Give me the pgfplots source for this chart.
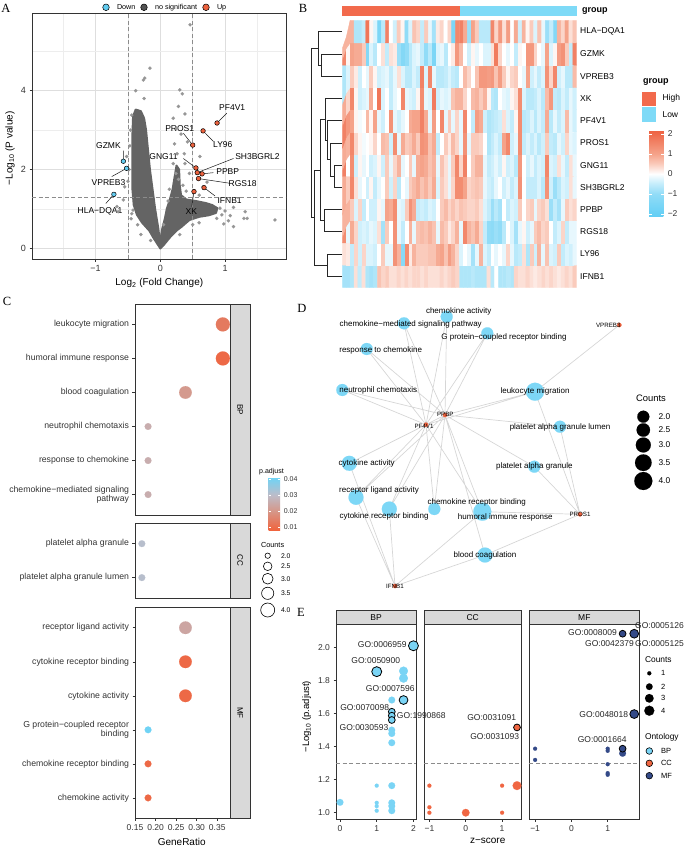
\documentclass[border=0pt]{standalone}
\usepackage{fontspec}
\setmainfont{Liberation Sans}
\newfontfamily\serif{Liberation Serif}
\usepackage{pgfplots}
\pgfplotsset{compat=1.18}
\usetikzlibrary{calc}

\newcommand{\fsz}[1]{\fontsize{#1}{#1}\selectfont}

\definecolor{upc}{RGB}{236,98,62}
\definecolor{downc}{RGB}{98,204,240}
\definecolor{nsc}{RGB}{100,100,100}
\definecolor{ptc}{RGB}{150,150,150}
\definecolor{highc}{RGB}{242,106,76}
\definecolor{lowc}{RGB}{126,218,247}
\definecolor{nodec}{RGB}{125,215,246}
\definecolor{edgec}{RGB}{214,214,214}
\definecolor{stripc}{RGB}{217,217,217}
\definecolor{framec}{RGB}{51,51,51}
\definecolor{bpc}{RGB}{122,212,245}
\definecolor{ccc}{RGB}{240,102,66}
\definecolor{mfc}{RGB}{52,74,136}

\pgfplotsset{
  colormap={heat}{rgb255(0)=(96,206,245) rgb255(114)=(145,220,247) rgb255(164)=(195,236,251)
     rgb255(214)=(255,255,255) rgb255(264)=(250,203,188) rgb255(314)=(245,163,138) rgb255(430)=(238,98,66)},
  colormap={padj}{rgb255(0)=(240,100,62) rgb255(117)=(214,150,136) rgb255(217)=(190,188,200) rgb255(330)=(110,212,246)},
  /pgf/number format/assume math mode=true,
  base/.style={scale only axis, anchor=south west,
    axis line style={framec, line width=0.6pt},
    tick style={framec, line width=0.5pt},
    major tick length=2.5pt, tick align=outside, tick pos=left,
    ticklabel style={text=black!80}},
  bub/.style={scatter, only marks, mark=*,
    scatter/use mapped color={#1},
    visualization depends on={\thisrow{r}\as\rr},
    scatter/@pre marker code/.append style={/tikz/mark size=\rr}},
  cax/.style={base, width=95pt, xmin=0.15, xmax=0.381, clip=false,
    colormap name=padj, point meta min=0.0083, point meta max=0.0413,
    yticklabel style={font=\fontsize{8.7}{9.6}\selectfont, align=right},
    xtick={0.15,0.2,0.25,0.3,0.35}, xticklabels={0.15,0.20,0.25,0.30,0.35},
    scaled x ticks=false,
    xticklabel style={font=\fsz{8.5}}},
  eax/.style={base, height=195pt, ymin=0.96, ymax=2.142, clip=false,
    ticklabel style={font=\fsz{8.5}}},
  page/.style={scale only axis, anchor=south west, at={(0pt,-848pt)}, width=685pt, height=848pt,
    xmin=0, xmax=685, ymin=-848, ymax=0, hide axis, clip=false},
}

\begin{document}
\begin{tikzpicture}
\path[use as bounding box] (0pt,0pt) rectangle (685pt,-848pt);

% ================= A : volcano
\begin{axis}[base, at={(32pt,-259pt)}, width=254pt, height=246pt,
  xmin=-1.98, xmax=1.94, ymin=-0.27, ymax=5.97,
  axis line style={framec, line width=0.9pt},
  xtick={-1,0,1}, xticklabels={−1,0,1},
  ytick={0,2,4}, yticklabels={0,2,4},
  minor xtick={-1.5,-0.5,0.5,1.5}, minor ytick={1,3,5},
  minor tick length=0pt,
  grid=both,
  major grid style={draw=black!13, line width=0.7pt},
  minor grid style={draw=black!7, line width=0.5pt},
  ticklabel style={font=\fsz{9}}]
\addplot[fill=nsc, draw=nsc, line width=2pt, line join=round] coordinates {
 (0,0) (-0.1,0.25) (-0.17,0.45) (-0.28,0.65) (-0.36,0.85) (-0.41,1.1) (-0.43,1.5)
 (-0.43,2.2) (-0.43,2.9) (-0.42,3.35) (-0.38,3.52) (-0.3,3.48) (-0.25,3.3) (-0.22,3.0)
 (-0.19,2.5) (-0.16,2.0) (-0.12,1.5) (-0.08,1.0) (-0.03,0.5) (-0.01,0.2)} -- cycle;
\addplot[fill=nsc, draw=nsc, line width=2pt, line join=round] coordinates {
 (0,0) (0.01,0.3) (0.03,0.5) (0.07,0.75) (0.1,1.0) (0.15,1.25) (0.19,1.5) (0.22,1.8)
 (0.25,2.1) (0.29,2.0) (0.3,1.6) (0.32,1.35) (0.4,1.24) (0.55,1.2) (0.7,1.15) (0.8,1.1)
 (0.88,1.02) (0.86,0.9) (0.75,0.84) (0.6,0.8) (0.45,0.72) (0.33,0.55) (0.25,0.45)
 (0.15,0.28) (0.06,0.1)} -- cycle;
\addplot[only marks, mark=*, mark size=1.7, mark options={fill=ptc, draw=ptc, line width=0.1pt}] coordinates {
 (0.46,5.67) (-0.16,4.57) (-0.26,4.27) (-0.24,4.32) (-0.44,3.38) (-0.52,2.33) (-0.48,2.0)
 (-0.55,1.56) (-0.57,1.23) (-0.42,0.97) (-0.44,0.88) (-0.67,1.06) (-0.5,1.7) (-0.47,2.6)
 (-0.46,3.0) (0.30,4.02) (0.34,3.92) (0.28,3.6) (0.38,3.41) (0.2,3.3) (0.25,3.05)
 (0.32,2.9) (0.22,2.65) (0.37,2.4) (0.2,2.15) (0.38,2.15) (0.61,2.33) (0.66,1.56)
 (0.72,1.68) (0.42,2.7) (0.45,1.9) (0.35,1.6) (0.4,1.45) (1.31,0.93) (1.29,0.76)
 (1.13,0.55) (1.77,0.72) (1.13,1.04) (1.08,0.83) (1.0,0.95) (0.87,0.76) (0.95,0.85)
 (1.05,0.7) (0.92,1.02) (0.6,1.35) (0.5,0.6) (0.6,0.65) (0.3,0.35) (-0.35,0.6)
 (-0.45,0.75) (-0.3,0.35) (-0.15,0.2) (-0.38,4.0) (-0.25,3.8) (0.26,2.4) (0.24,1.9)
 (0.28,1.75) (0.05,0.6) (0.12,1.2) (0.14,1.5) (-0.65,0.93) (1.34,0.76) (0.98,0.62)};
\addplot[black!45, dash pattern=on 4pt off 2.5pt, line width=0.6pt] coordinates {(-0.5,-0.27) (-0.5,5.97)};
\addplot[black!45, dash pattern=on 4pt off 2.5pt, line width=0.6pt] coordinates {(0.5,-0.27) (0.5,5.97)};
\addplot[black!45, dash pattern=on 4pt off 2.5pt, line width=0.6pt] coordinates {(-1.98,1.3) (1.94,1.3)};
\addplot[black!90, line width=0.5pt, unbounded coords=jump] table[row sep=\\] {x y\\
 0.876 3.18\\ 1.026 3.43\\ nan nan\\ 0.66 2.98\\ 0.82 2.71\\ nan nan\\
 0.50 2.62\\ 0.356 2.92\\ nan nan\\ 0.55 2.04\\ 0.356 2.28\\ nan nan\\
 0.57 1.92\\ 1.13 2.28\\ nan nan\\ 0.645 1.89\\ 0.82 1.92\\ nan nan\\
 0.59 1.77\\ 1.077 1.65\\ nan nan\\ 0.675 1.54\\ 0.845 1.33\\ nan nan\\
 0.52 1.44\\ 0.485 1.06\\ nan nan\\ -0.57 2.21\\ -0.57 2.48\\ nan nan\\
 -0.52 2.03\\ -0.75 1.82\\ nan nan\\ -0.716 1.37\\ -0.84 1.14\\};
\addplot[only marks, mark=*, mark size=2.3, mark options={fill=downc, draw=black, line width=0.5pt}] coordinates {
 (-0.57,2.21) (-0.52,2.03) (-0.716,1.37)};
\addplot[only marks, mark=*, mark size=2.3, mark options={fill=upc, draw=black, line width=0.5pt}] coordinates {
 (0.876,3.18) (0.66,2.98) (0.50,2.62) (0.55,2.04) (0.57,1.92) (0.645,1.89) (0.59,1.77) (0.675,1.54) (0.52,1.44)};
\node[font=\fsz{8.5}] at (axis cs:1.11,3.57) {PF4V1};
\node[font=\fsz{8.5}] at (axis cs:0.965,2.64) {LY96};
\node[font=\fsz{8.5}] at (axis cs:0.30,3.05) {PROS1};
\node[font=\fsz{8.5}] at (axis cs:0.05,2.34) {GNG11};
\node[font=\fsz{8.5}] at (axis cs:1.5,2.32) {SH3BGRL2};
\node[font=\fsz{8.5}] at (axis cs:1.04,1.94) {PPBP};
\node[font=\fsz{8.5}] at (axis cs:1.27,1.65) {RGS18};
\node[font=\fsz{8.5}] at (axis cs:1.07,1.21) {IFNB1};
\node[font=\fsz{8.5}] at (axis cs:0.48,0.94) {XK};
\node[font=\fsz{8.5}] at (axis cs:-0.80,2.6) {GZMK};
\node[font=\fsz{8.5}] at (axis cs:-0.80,1.68) {VPREB3};
\node[font=\fsz{8.5}] at (axis cs:-0.93,0.94) {HLA−DQA1};
\end{axis}

% ================= B : heatmap
\begin{axis}[scale only axis, anchor=south west, at={(342.3pt,-287.3pt)},
  width=234.4pt, height=266.6pt,
  xmin=-0.5, xmax=59.5, ymin=-0.5, ymax=11.5, axis line style={draw=none},
  xtick=\empty, ytick={0,...,11},
  yticklabels={IFNB1,LY96,RGS18,PPBP,SH3BGRL2,GNG11,PROS1,PF4V1,XK,VPREB3,GZMK,HLA−DQA1},
  yticklabel pos=right, ytick pos=right, major tick length=0pt, ytick style={draw=none},
  yticklabel style={font=\fsz{8.5}, text=black},
  colormap name=heat, point meta min=-2.14, point meta max=2.16,
  colorbar,
  colorbar style={scale only axis, anchor=south west,
    at={($(parent axis.south west)+(298.4pt,70.6pt)$)},
    width=15pt, height=86pt, xtick=\empty,
    ytick={-2,-1,0,1,2}, yticklabels={−2,−1,0,1,2}, scaled y ticks=false,
    yticklabel pos=right, ytick pos=both, tick align=inside, major tick length=3pt,
    ytick style={draw=white, line width=0.8pt}, axis line style={draw=none},
    yticklabel style={font=\fsz{8.5}, text=black!80}}]
\addplot[matrix plot*, mesh/cols=60, mesh/rows=12, point meta=explicit]
 table[row sep=\\, x expr={mod(\coordindex,60)}, y expr={floor(\coordindex/60)}, meta=v] {v\\
-0.8\\-0.8\\-0.7\\0.3\\-0.5\\0.3\\-0.7\\-0.8\\-0.7\\0.6\\0.4\\0.5\\0.3\\0.3\\0.4\\0.3\\0.4\\0.3\\0.4\\0.4\\0.3\\0.4\\0.3\\0.3\\0.3\\0.4\\0.3\\0.4\\0.5\\0.4\\
-0.7\\-0.7\\-0.7\\-0.6\\-0.7\\-0.7\\-0.7\\0.3\\-0.6\\0\\-0.7\\-0.7\\-0.6\\-0.7\\0.4\\0.3\\0.3\\0.4\\0.3\\0.2\\0.3\\0.4\\0.3\\0.4\\0.3\\0.2\\0.3\\0.4\\0.3\\0.5\\
0.3\\0.2\\-0.5\\0.4\\-0.4\\0.4\\-0.3\\-0.3\\-0.4\\0\\0.5\\-0.2\\-0.2\\1.3\\0.8\\-1.2\\1.4\\0.2\\0.8\\0.5\\0.5\\0.5\\0.6\\0.6\\0.9\\1.0\\0.6\\1.1\\0.8\\0.4\\
-0.3\\0\\-0.2\\-0.8\\-0.2\\0.8\\-0.3\\-0.5\\0\\-0.2\\0\\-0.2\\0.4\\-0.2\\-0.6\\-0.5\\0.3\\-0.7\\0.5\\-0.4\\0.8\\-0.2\\0.6\\-0.3\\-0.4\\0.5\\-0.5\\-0.3\\-0.4\\-0.2\\
1.4\\-0.2\\0.9\\0.4\\-0.4\\-0.3\\-0.4\\-0.2\\-0.3\\0.3\\-0.8\\0.5\\0\\1.3\\-0.2\\-0.5\\0\\0.8\\-0.2\\0.6\\0.7\\0.6\\0.8\\0.6\\-0.2\\0.7\\0.5\\0.2\\0.4\\0.8\\
-0.2\\1.5\\0.8\\0.6\\0.9\\0.4\\-0.5\\-1.0\\-1.1\\-0.9\\-1.0\\-0.6\\0\\-0.3\\-0.8\\-0.2\\0.1\\-0.4\\-0.2\\0.5\\0.7\\0.4\\0.5\\0\\-0.5\\-0.3\\0.4\\-0.5\\-0.2\\-0.2\\
0.8\\0.8\\0.5\\-0.3\\0.4\\-0.5\\0\\-0.4\\-0.4\\0.1\\-0.2\\1.0\\0.9\\1.4\\-0.2\\-0.3\\0.5\\1.3\\0.9\\-0.5\\-0.4\\-0.5\\-0.3\\-0.4\\0\\0.5\\0.7\\0.4\\0.6\\0.4\\
0.6\\0.5\\0.4\\0.4\\0.5\\0.3\\-0.3\\-0.5\\-0.9\\-0.6\\-0.8\\0\\-0.5\\-0.3\\-0.4\\0.5\\0\\0.4\\0.5\\-0.2\\0.4\\0.5\\0.3\\-0.9\\-0.5\\-0.8\\-0.2\\0.5\\0.3\\0.4\\
0.9\\0.5\\1.5\\0.3\\-0.2\\0\\-0.4\\0.1\\-0.5\\-0.2\\0\\0.5\\-0.4\\0.4\\-0.6\\0\\-0.2\\0.5\\0.7\\0.9\\0.6\\0.8\\0.5\\0.9\\-0.3\\0.5\\0.3\\-0.2\\0.4\\1.4\\
1.4\\1.0\\0.4\\0.5\\0.6\\0.5\\-0.2\\-0.4\\-0.5\\-0.2\\0\\-0.4\\-0.2\\-0.5\\-0.3\\1.3\\0\\-0.5\\-0.5\\-0.5\\-0.3\\-0.6\\1.3\\-0.4\\-0.9\\-0.6\\-0.3\\-0.4\\0.3\\-0.2\\
1.6\\0\\1.4\\-0.4\\0.1\\-0.2\\0\\-0.4\\-0.3\\0.1\\-0.4\\0.5\\-0.2\\0.4\\0.8\\-0.2\\0\\0.5\\-0.2\\0.9\\1.0\\0.9\\0.6\\0.8\\-0.2\\0.6\\0.3\\-0.2\\0.5\\1.5\\
0.4\\1.6\\0\\0.5\\0.8\\0.8\\-0.2\\-0.5\\-0.4\\-0.2\\-0.4\\0.1\\-0.4\\-0.3\\-0.6\\1.2\\0\\-0.4\\-0.2\\-0.5\\-0.3\\-0.4\\1.5\\-0.3\\-0.4\\0.3\\-0.2\\-0.5\\0.3\\-0.2\\
0.9\\0.8\\1.5\\0.4\\0.1\\-0.1\\0\\0.1\\0.4\\0\\0.7\\0.6\\-0.4\\1.4\\-0.2\\0.9\\0.5\\0.6\\0.9\\0.5\\1.3\\1.2\\0.6\\0.9\\-0.5\\0\\0.5\\0.2\\0.7\\0.4\\
-0.2\\1.3\\-0.2\\0.5\\0.5\\0.4\\0\\-0.7\\-0.5\\-0.3\\-0.5\\1.0\\1.5\\-0.4\\-0.2\\1.4\\-0.5\\-0.3\\-0.5\\-0.3\\-0.6\\-0.4\\0.5\\-0.5\\-0.6\\-0.2\\-0.4\\0.4\\-0.2\\-0.3\\
1.6\\1.2\\1.0\\0.1\\-0.1\\0\\0.7\\0.1\\1.0\\-0.2\\-0.4\\0\\1.3\\-0.2\\-0.4\\-0.2\\0\\0.9\\1.0\\1.0\\1.6\\0.9\\-0.2\\1.1\\0\\1.5\\-0.2\\0.5\\-0.2\\0.4\\
-0.2\\1.5\\0\\-0.5\\1.1\\0.9\\-0.4\\-0.7\\-0.6\\-0.5\\-0.4\\0.3\\-0.3\\-0.5\\0.1\\1.4\\-0.6\\-0.5\\-0.3\\-0.6\\-0.3\\-0.5\\0.9\\-0.6\\-0.2\\-0.5\\-0.3\\0.7\\-0.2\\-0.4\\
0.9\\0.4\\1.5\\0.1\\-0.4\\-0.3\\-0.2\\0.9\\0\\1.8\\-0.3\\0\\-0.5\\-0.2\\0\\1.5\\-0.2\\-0.3\\-0.4\\0.1\\1.4\\-0.2\\-0.3\\1.7\\-0.4\\-0.2\\-0.3\\-0.2\\0.6\\0.8\\
0.8\\0.4\\0\\0.7\\0.8\\0.5\\0.8\\0.1\\-0.6\\-0.7\\0\\-0.2\\-0.3\\0.1\\0.3\\1.4\\-0.3\\-0.6\\-0.6\\-0.5\\-0.3\\-0.6\\0.7\\1.2\\-0.5\\-0.6\\-0.3\\-0.5\\-0.2\\-0.4\\
-0.7\\-0.3\\0.5\\0.2\\-0.4\\0\\-0.2\\0.5\\0.1\\-0.4\\-0.3\\-0.2\\-0.5\\-0.2\\0.3\\-0.3\\-0.6\\-0.6\\-0.3\\-0.5\\1.6\\-0.3\\1.5\\-0.2\\-0.6\\-0.6\\-0.5\\-0.3\\-0.5\\-0.6\\
0\\0.7\\0.4\\0\\0.6\\1.2\\1.2\\1.1\\1.2\\0.6\\1.1\\0.5\\0.1\\0.4\\0.5\\0\\-0.2\\1.0\\-0.4\\-0.2\\-0.5\\-0.3\\1.3\\0.4\\1.5\\-0.4\\-0.2\\-0.6\\-0.6\\0.7\\
1.5\\0.1\\1.0\\0.9\\0.9\\0.5\\-1.3\\-0.3\\-0.6\\0\\0.3\\-0.5\\0.3\\0.2\\-0.9\\-1.3\\-1.0\\-0.6\\-0.3\\-0.2\\-0.5\\-1.0\\-0.6\\-1.5\\-0.3\\-0.2\\-0.6\\0\\0.2\\1.2\\
0.7\\0\\-0.4\\0.1\\-0.2\\0\\-0.3\\-0.3\\0.3\\1.7\\0.4\\0\\-0.2\\0\\-0.5\\0.1\\0\\1.2\\1.2\\0.4\\0\\-0.2\\1.0\\-0.3\\0.1\\1.1\\1.3\\0.5\\-0.5\\1.6\\
0.8\\0.8\\0.8\\-0.7\\-0.7\\-0.5\\1.8\\0.1\\-0.3\\-1.5\\-0.6\\1.6\\0\\-0.4\\0.5\\0.1\\-1.0\\-0.3\\0.6\\0.4\\-0.5\\0.5\\-0.2\\-0.8\\0.2\\0.4\\0\\0.4\\-1.5\\1.5\\
1.6\\0.9\\-0.9\\1.0\\0.5\\-0.6\\-0.6\\-0.6\\1.5\\0.4\\1.2\\0.3\\1.1\\0\\0.9\\-0.4\\0.8\\0.1\\0.5\\-0.3\\0.6\\-0.2\\-0.9\\-0.5\\-1.3\\0.8\\0.4\\1.0\\0.3\\0.6\\
};
\end{axis}

% ================= C : dot plot facets
\begin{axis}[cax, at={(135pt,-515pt)}, height=211pt, ymin=0.4, ymax=6.6, xtick=\empty,
  ytick={1,...,6},
  yticklabels={{chemokine−mediated signaling\\pathway}, response to chemokine, neutrophil chemotaxis, blood coagulation, humoral immune response, leukocyte migration},
  colorbar,
  colorbar style={scale only axis, anchor=south west,
    at={($(parent axis.south west)+(125pt,-15pt)$)},
    width=11.7pt, height=52.7pt, xtick=\empty,
    ytick={0.01,0.02,0.03,0.04}, yticklabels={0.01,0.02,0.03,0.04}, scaled y ticks=false,
    yticklabel pos=right, ytick pos=both, tick align=inside, major tick length=2.3pt,
    ytick style={draw=white, line width=0.7pt}, axis line style={draw=none},
    yticklabel style={font=\fsz{7}, text=black!80}}]
\addplot[point meta=explicit, bub={draw=mapped color, fill=mapped color, line width=0.1pt}]
 table[row sep=\\, meta=p] {x y p r\\
 0.3636 6 0.0135 7.0\\ 0.3636 5 0.0095 7.0\\ 0.2727 4 0.0210 6.3\\
 0.1818 3 0.0260 3.4\\ 0.1818 2 0.0260 3.4\\ 0.1818 1 0.0260 3.4\\};
\end{axis}
\begin{axis}[cax, at={(135pt,-598pt)}, height=74.7pt, ymin=0.4, ymax=2.6, xtick=\empty,
  ytick={1,2}, yticklabels={platelet alpha granule lumen, platelet alpha granule}]
\addplot[point meta=explicit, bub={draw=mapped color, fill=mapped color, line width=0.1pt}]
 table[row sep=\\, meta=p] {x y p r\\ 0.1667 2 0.031 3.4\\ 0.1667 1 0.031 3.4\\};
\end{axis}
\begin{axis}[cax, at={(135pt,-818.3pt)}, height=211pt, ymin=0.4, ymax=6.6,
  ytick={1,...,6},
  yticklabels={chemokine activity, chemokine receptor binding, {G protein−coupled receptor\\binding}, cytokine activity, cytokine receptor binding, receptor ligand activity}]
\addplot[point meta=explicit, bub={draw=mapped color, fill=mapped color, line width=0.1pt}]
 table[row sep=\\, meta=p] {x y p r\\
 0.1818 1 0.0095 3.4\\ 0.1818 2 0.0095 3.4\\ 0.1818 3 0.041 3.4\\
 0.2727 4 0.0095 6.3\\ 0.2727 5 0.0095 6.3\\ 0.2727 6 0.024 6.3\\};
\end{axis}

% ================= E : z-score facets
\begin{axis}[eax, at={(336pt,-819.3pt)}, width=80pt, xmin=-0.11, xmax=2.07,
  xtick={0,1,2}, ytick={1,1.2,1.4,1.6,1.8,2}, yticklabels={1.0,1.2,1.4,1.6,1.8,2.0}]
\addplot[black!45, dash pattern=on 4pt off 2.5pt, line width=0.6pt] coordinates {(-0.11,1.3) (2.07,1.3)};
\addplot[bub={draw=bpc, fill=bpc, line width=0.1pt}] table[row sep=\\] {x y r\\
 1.73 1.859 4.4\\ 1.73 1.815 4.4\\ 1.41 1.683 3.4\\ 1.41 1.501 3.4\\ 1.41 1.48 3.4\\
 1.41 1.424 3.4\\ 1 1.164 2.0\\ 1.41 1.164 3.4\\ 0 1.063 3.4\\ 1 1.06 2.0\\ 1 1.04 2.0\\
 1 1.012 2.0\\ 1.41 1.06 3.4\\ 1.41 1.04 3.4\\ 1.41 1.012 3.4\\};
\addplot[bub={draw=black, fill=bpc, line width=0.8pt}] table[row sep=\\] {x y r\\
 2.0 2.012 5.0\\ 1 1.855 5.0\\ 1.73 1.683 4.4\\ 1.41 1.612 3.4\\ 1.41 1.588 3.4\\ 1.41 1.562 3.4\\};
\end{axis}
\begin{axis}[eax, at={(424.3pt,-819.3pt)}, width=96.7pt, xmin=-1.14, xmax=1.52,
  xtick={-1,0,1}, xticklabels={−1,0,1}, ytick=\empty]
\addplot[black!45, dash pattern=on 4pt off 2.5pt, line width=0.6pt] coordinates {(-1.14,1.3) (1.52,1.3)};
\addplot[bub={draw=ccc, fill=ccc, line width=0.1pt}] table[row sep=\\] {x y r\\
 -1 1.164 2.0\\ 1 1.164 2.0\\ 1.41 1.164 4.4\\ -1 1.033 2.0\\ -1 1.0 2.0\\ 0 1.0 3.8\\ 1 1.0 2.0\\};
\addplot[bub={draw=black, fill=ccc, line width=0.8pt}] table[row sep=\\] {x y r\\
 1.41 1.517 3.4\\};
\end{axis}
\begin{axis}[eax, at={(529.3pt,-819.3pt)}, width=110pt, xmin=-1.16, xmax=1.87,
  xtick={-1,0,1}, xticklabels={−1,0,1}, ytick=\empty]
\addplot[black!45, dash pattern=on 4pt off 2.5pt, line width=0.6pt] coordinates {(-1.16,1.3) (1.87,1.3)};
\addplot[bub={draw=mfc, fill=mfc, line width=0.1pt}] table[row sep=\\] {x y r\\
 1.41 1.36 3.4\\ -1 1.388 2.0\\ -1 1.32 2.0\\ 1 1.388 2.0\\ 1 1.375 2.0\\ 1 1.294 2.0\\
 1 1.24 2.0\\ 1 1.23 2.0\\};
\addplot[bub={draw=black, fill=mfc, line width=0.8pt}] table[row sep=\\] {x y r\\
 1.41 2.085 3.4\\ 1.73 2.085 4.4\\ 1.73 1.598 4.4\\ 1.41 1.388 3.4\\};
\end{axis}

% ================= overlay in page pixels (D network, dendrogram, legends, strips)
\begin{axis}[page]
% panel letters
\node[font=\serif\fsz{12.5}] at (axis cs:6,-8) {A};
\node[font=\serif\fsz{12.5}] at (axis cs:303,-8) {B};
\node[font=\serif\fsz{12.5}] at (axis cs:7,-301) {C};
\node[font=\serif\fsz{12.5}] at (axis cs:302,-308) {D};
\node[font=\serif\fsz{12.5}] at (axis cs:301,-612) {E};
% A legend
\addplot[bub={draw=black, fill=downc, line width=0.5pt}] table[row sep=\\] {x y r\\ 106 -7.3 3.3\\};
\addplot[bub={draw=black, fill=black!68, line width=0.5pt}] table[row sep=\\] {x y r\\ 144 -7.3 3.3\\};
\addplot[bub={draw=black, fill=upc, line width=0.5pt}] table[row sep=\\] {x y r\\ 206 -7.3 3.3\\};
\node[font=\fsz{7.2}, anchor=west] at (axis cs:113.5,-7.3) {Down};
\node[font=\fsz{7.2}, anchor=west] at (axis cs:151.5,-7.3) {no significant};
\node[font=\fsz{7.2}, anchor=west] at (axis cs:213.5,-7.3) {Up};
% A axis titles
\node[font=\fsz{10}] at (axis cs:159.3,-283.3) {Log\textsubscript{2} (Fold Change)};
\node[font=\fsz{10}, rotate=90] at (axis cs:10,-148.3) {−Log\textsubscript{10} (P value)};
% B group bar
\addplot[fill=highc, draw=none] coordinates {(342.3,-6) (460,-6) (460,-16.3) (342.3,-16.3)} -- cycle;
\addplot[fill=lowc, draw=none] coordinates {(460,-6) (576.7,-6) (576.7,-16.3) (460,-16.3)} -- cycle;
\node[font=\bfseries\fsz{9}, anchor=west] at (axis cs:578.5,-11.5) {group};
% B dendrogram
\addplot[black!85, line width=0.7pt, unbounded coords=jump] table[row sep=\\] {x y\\
 342 -54.0\\ 321.7 -54.0\\ 321.7 -76.2\\ 342 -76.2\\ nan nan\\
 342 -31.8\\ 318.3 -31.8\\ 318.3 -65.1\\ 321.7 -65.1\\ nan nan\\
 342 -165.1\\ 334.3 -165.1\\ 334.3 -187.3\\ 342 -187.3\\ nan nan\\
 342 -142.9\\ 330 -142.9\\ 330 -176.2\\ 334.3 -176.2\\ nan nan\\
 342 -120.7\\ 327.3 -120.7\\ 327.3 -159.6\\ 330 -159.6\\ nan nan\\
 342 -98.5\\ 325 -98.5\\ 325 -140.1\\ 327.3 -140.1\\ nan nan\\
 342 -209.6\\ 324 -209.6\\ 324 -231.8\\ 342 -231.8\\ nan nan\\
 325 -119.3\\ 320.7 -119.3\\ 320.7 -220.7\\ 324 -220.7\\ nan nan\\
 342 -254.0\\ 327.3 -254.0\\ 327.3 -276.2\\ 342 -276.2\\ nan nan\\
 320.7 -170\\ 314 -170\\ 314 -265.1\\ 327.3 -265.1\\ nan nan\\
 318.3 -48.5\\ 311.7 -48.5\\ 311.7 -217.6\\ 314 -217.6\\};
% B group legend
\node[font=\bfseries\fsz{9}, anchor=west] at (axis cs:639.5,-82.5) {group};
\addplot[fill=highc, draw=none] coordinates {(641.7,-91.7) (655.7,-91.7) (655.7,-105.7) (641.7,-105.7)} -- cycle;
\addplot[fill=lowc, draw=none] coordinates {(641.7,-107.3) (655.7,-107.3) (655.7,-121.7) (641.7,-121.7)} -- cycle;
\node[font=\fsz{8.5}, anchor=west] at (axis cs:659,-98.7) {High};
\node[font=\fsz{8.5}, anchor=west] at (axis cs:659,-114.5) {Low};
% C strips
\addplot[fill=stripc, draw=framec, line width=0.6pt] coordinates {(230,-304) (250.3,-304) (250.3,-515) (230,-515)} -- cycle;
\addplot[fill=stripc, draw=framec, line width=0.6pt] coordinates {(230,-523.3) (250.3,-523.3) (250.3,-598) (230,-598)} -- cycle;
\addplot[fill=stripc, draw=framec, line width=0.6pt] coordinates {(230,-607.3) (250.3,-607.3) (250.3,-818.3) (230,-818.3)} -- cycle;
\node[font=\fsz{8}, rotate=-90] at (axis cs:240.2,-409.5) {BP};
\node[font=\fsz{8}, rotate=-90] at (axis cs:240.2,-560.7) {CC};
\node[font=\fsz{8}, rotate=-90] at (axis cs:240.2,-712.8) {MF};
\node[font=\fsz{10}] at (axis cs:181.7,-842.3) {GeneRatio};
% C legends
\node[font=\fsz{7}, anchor=south west, inner sep=0pt] at (axis cs:259,-475.5) {p.adjust};
\node[font=\fsz{7.3}, anchor=west] at (axis cs:257.5,-545) {Counts};
\addplot[bub={draw=black, fill=white, line width=0.6pt}] table[row sep=\\] {x y r\\
 267.7 -555.7 2.7\\ 267.7 -566.3 4.3\\ 267.7 -578.7 5.4\\ 267.7 -593.3 6.1\\ 267.7 -610 7.0\\};
\node[font=\fsz{6.8}, anchor=west] at (axis cs:277.5,-555.7) {2.0};
\node[font=\fsz{6.8}, anchor=west] at (axis cs:277.5,-566.3) {2.5};
\node[font=\fsz{6.8}, anchor=west] at (axis cs:277.5,-578.7) {3.0};
\node[font=\fsz{6.8}, anchor=west] at (axis cs:277.5,-593.3) {3.5};
\node[font=\fsz{6.8}, anchor=west] at (axis cs:277.5,-610) {4.0};
% D network edges
\addplot[edgec, line width=0.7pt, unbounded coords=jump] table[row sep=\\] {x y\\
 445 -415\\ 446.7 -316.7\\ nan nan\\ 426 -424.7\\ 446.7 -316.7\\ nan nan\\
 445 -415\\ 404 -323.3\\ nan nan\\ 426 -424.7\\ 404 -323.3\\ nan nan\\
 445 -415\\ 487.3 -333.3\\ nan nan\\ 426 -424.7\\ 487.3 -333.3\\ nan nan\\
 445 -415\\ 366.7 -349\\ nan nan\\ 426 -424.7\\ 366.7 -349\\ nan nan\\
 445 -415\\ 342.3 -390\\ nan nan\\ 426 -424.7\\ 342.3 -390\\ nan nan\\
 445 -415\\ 535 -391.7\\ nan nan\\ 426 -424.7\\ 535 -391.7\\ nan nan\\
 619.3 -325\\ 535 -391.7\\ nan nan\\ 580 -514.3\\ 535 -391.7\\ nan nan\\
 445 -415\\ 560 -426.7\\ nan nan\\ 580 -514.3\\ 560 -426.7\\ nan nan\\
 445 -415\\ 349.3 -463.3\\ nan nan\\ 426 -424.7\\ 349.3 -463.3\\ nan nan\\ 395 -586\\ 349.3 -463.3\\ nan nan\\
 445 -415\\ 534.3 -466.7\\ nan nan\\ 580 -514.3\\ 534.3 -466.7\\ nan nan\\
 445 -415\\ 356 -497.3\\ nan nan\\ 426 -424.7\\ 356 -497.3\\ nan nan\\ 395 -586\\ 356 -497.3\\ nan nan\\
 445 -415\\ 389.3 -509\\ nan nan\\ 426 -424.7\\ 389.3 -509\\ nan nan\\ 395 -586\\ 389.3 -509\\ nan nan\\
 445 -415\\ 434.3 -509\\ nan nan\\ 426 -424.7\\ 434.3 -509\\ nan nan\\
 445 -415\\ 482.3 -511.7\\ nan nan\\ 426 -424.7\\ 482.3 -511.7\\ nan nan\\
 580 -514.3\\ 482.3 -511.7\\ nan nan\\ 395 -586\\ 482.3 -511.7\\ nan nan\\
 445 -415\\ 485 -555\\ nan nan\\ 580 -514.3\\ 485 -555\\ nan nan\\ 395 -586\\ 485 -555\\};
% D term nodes
\addplot[bub={draw=nodec, fill=nodec, line width=0.1pt}] table[row sep=\\] {x y r\\
 446.7 -316.7 6\\ 404 -323.3 6\\ 487.3 -333.3 6\\ 366.7 -349 6\\ 342.3 -390 6\\
 535 -391.7 9\\ 560 -426.7 6\\ 349.3 -463.3 7.5\\ 534.3 -466.7 6\\ 356 -497.3 7.5\\
 389.3 -509 7.5\\ 434.3 -509 6\\ 482.3 -511.7 9\\ 485 -555 7.5\\};
% D gene nodes
\addplot[bub={draw=upc, fill=upc, line width=0.1pt}] table[row sep=\\] {x y r\\
 445 -415 2.2\\ 426 -424.7 2.2\\ 619.3 -325 2.2\\ 580 -514.3 2.2\\ 395 -586 2.2\\};
% D legend
\node[font=\fsz{9.4}, anchor=west] at (axis cs:632.5,-398.3) {Counts};
\addplot[bub={draw=black, fill=black, line width=0.1pt}] table[row sep=\\] {x y r\\
 643.3 -416.7 6\\ 643.3 -430 6.7\\ 643.3 -445 7.5\\ 643.3 -462.7 8.3\\ 643.3 -481 9\\};
\node[font=\fsz{8.4}, anchor=west] at (axis cs:655,-416.7) {2.0};
\node[font=\fsz{8.4}, anchor=west] at (axis cs:655,-430) {2.5};
\node[font=\fsz{8.4}, anchor=west] at (axis cs:655,-445) {3.0};
\node[font=\fsz{8.4}, anchor=west] at (axis cs:655,-462.7) {3.5};
\node[font=\fsz{8.4}, anchor=west] at (axis cs:655,-481) {4.0};
% E strips
\addplot[fill=stripc, draw=framec, line width=0.6pt] coordinates {(336,-610) (416,-610) (416,-624.3) (336,-624.3)} -- cycle;
\addplot[fill=stripc, draw=framec, line width=0.6pt] coordinates {(424.3,-610) (521,-610) (521,-624.3) (424.3,-624.3)} -- cycle;
\addplot[fill=stripc, draw=framec, line width=0.6pt] coordinates {(529.3,-610) (639.3,-610) (639.3,-624.3) (529.3,-624.3)} -- cycle;
\node[font=\fsz{8.5}] at (axis cs:376,-617.2) {BP};
\node[font=\fsz{8.5}] at (axis cs:472.7,-617.2) {CC};
\node[font=\fsz{8.5}] at (axis cs:584.3,-617.2) {MF};
% E axis titles
\node[font=\fsz{10}] at (axis cs:487.7,-840.7) {z−score};
\node[font=\fsz{9.5}, rotate=90] at (axis cs:306.7,-716.7) {−Log\textsubscript{10} (p.adjust)};
% E legends
\node[font=\fsz{8.4}, anchor=west] at (axis cs:641.5,-659.3) {Counts};
\addplot[bub={draw=black, fill=black, line width=0.1pt}] table[row sep=\\] {x y r\\
 649.3 -673.3 2\\ 649.3 -686.7 3.3\\ 649.3 -698.3 4.3\\ 649.3 -710.7 5\\};
\node[font=\fsz{7.5}, anchor=west] at (axis cs:657.5,-673.3) {1};
\node[font=\fsz{7.5}, anchor=west] at (axis cs:657.5,-686.7) {2};
\node[font=\fsz{7.5}, anchor=west] at (axis cs:657.5,-698.3) {3};
\node[font=\fsz{7.5}, anchor=west] at (axis cs:657.5,-710.7) {4};
\node[font=\fsz{8.4}, anchor=west] at (axis cs:641.5,-737.3) {Ontology};
\addplot[bub={draw=black, fill=bpc, line width=0.6pt}] table[row sep=\\] {x y r\\ 649.3 -751 3.3\\};
\addplot[bub={draw=black, fill=ccc, line width=0.6pt}] table[row sep=\\] {x y r\\ 649.3 -763.3 3.3\\};
\addplot[bub={draw=black, fill=mfc, line width=0.6pt}] table[row sep=\\] {x y r\\ 649.3 -775.7 3.3\\};
\node[font=\fsz{7.5}, anchor=west] at (axis cs:657.5,-751) {BP};
\node[font=\fsz{7.5}, anchor=west] at (axis cs:657.5,-763.3) {CC};
\node[font=\fsz{7.5}, anchor=west] at (axis cs:657.5,-775.7) {MF};
\end{axis}

% ================= text laid over the network nodes and E points
\begin{axis}[page]
\node[font=\fsz{8}] at (axis cs:458.7,-311) {chemokine activity};
\node[font=\fsz{8}] at (axis cs:410.7,-324.3) {chemokine−mediated signaling pathway};
\node[font=\fsz{8}] at (axis cs:504,-337.7) {G protein−coupled receptor binding};
\node[font=\fsz{8}] at (axis cs:380.7,-350) {response to chemokine};
\node[font=\fsz{8}] at (axis cs:378.3,-390.7) {neutrophil chemotaxis};
\node[font=\fsz{8}] at (axis cs:535,-391) {leukocyte migration};
\node[font=\fsz{8}] at (axis cs:560,-427.7) {platelet alpha granule lumen};
\node[font=\fsz{8}] at (axis cs:366.7,-463.7) {cytokine activity};
\node[font=\fsz{8}] at (axis cs:534.3,-466.7) {platelet alpha granule};
\node[font=\fsz{8}] at (axis cs:379,-490.7) {receptor ligand activity};
\node[font=\fsz{8}] at (axis cs:384,-516.7) {cytokine receptor binding};
\node[font=\fsz{8}] at (axis cs:476.7,-502.7) {chemokine receptor binding};
\node[font=\fsz{8}] at (axis cs:505.3,-517) {humoral immune response};
\node[font=\fsz{8}] at (axis cs:485,-555.7) {blood coagulation};
\node[font=\fsz{6.2}] at (axis cs:445.3,-414) {PPBP};
\node[font=\fsz{6.2}] at (axis cs:424,-426.7) {PF4V1};
\node[font=\fsz{6.2}] at (axis cs:608.3,-325) {VPREB3};
\node[font=\fsz{6.2}] at (axis cs:580,-514.3) {PROS1};
\node[font=\fsz{6.2}] at (axis cs:395,-586) {IFNB1};
% E point labels
\node[font=\fsz{8.5}, text=black!85] at (axis cs:382.3,-645) {GO:0006959};
\node[font=\fsz{8.5}, text=black!85] at (axis cs:375.8,-661) {GO:0050900};
\node[font=\fsz{8.5}, text=black!85] at (axis cs:390.3,-689) {GO:0007596};
\node[font=\fsz{8.5}, text=black!85] at (axis cs:364.7,-707.7) {GO:0070098};
\node[font=\fsz{8.5}, text=black!85] at (axis cs:421.3,-715.3) {GO:1990868};
\node[font=\fsz{8.5}, text=black!85] at (axis cs:364,-727.7) {GO:0030593};
\node[font=\fsz{8.5}, text=black!85] at (axis cs:491.7,-718) {GO:0031091};
\node[font=\fsz{8.5}, text=black!85] at (axis cs:494.7,-736.7) {GO:0031093};
\node[font=\fsz{8.5}, text=black!85] at (axis cs:592.5,-632.3) {GO:0008009};
\node[font=\fsz{8.5}, text=black!85] at (axis cs:659.5,-625.7) {GO:0005126};
\node[font=\fsz{8.5}, text=black!85] at (axis cs:609.5,-644) {GO:0042379};
\node[font=\fsz{8.5}, text=black!85] at (axis cs:659.5,-644) {GO:0005125};
\node[font=\fsz{8.5}, text=black!85] at (axis cs:603.8,-715) {GO:0048018};
\node[font=\fsz{8.5}, text=black!85] at (axis cs:602.2,-740) {GO:0001664};
\end{axis}
\end{tikzpicture}
\end{document}
